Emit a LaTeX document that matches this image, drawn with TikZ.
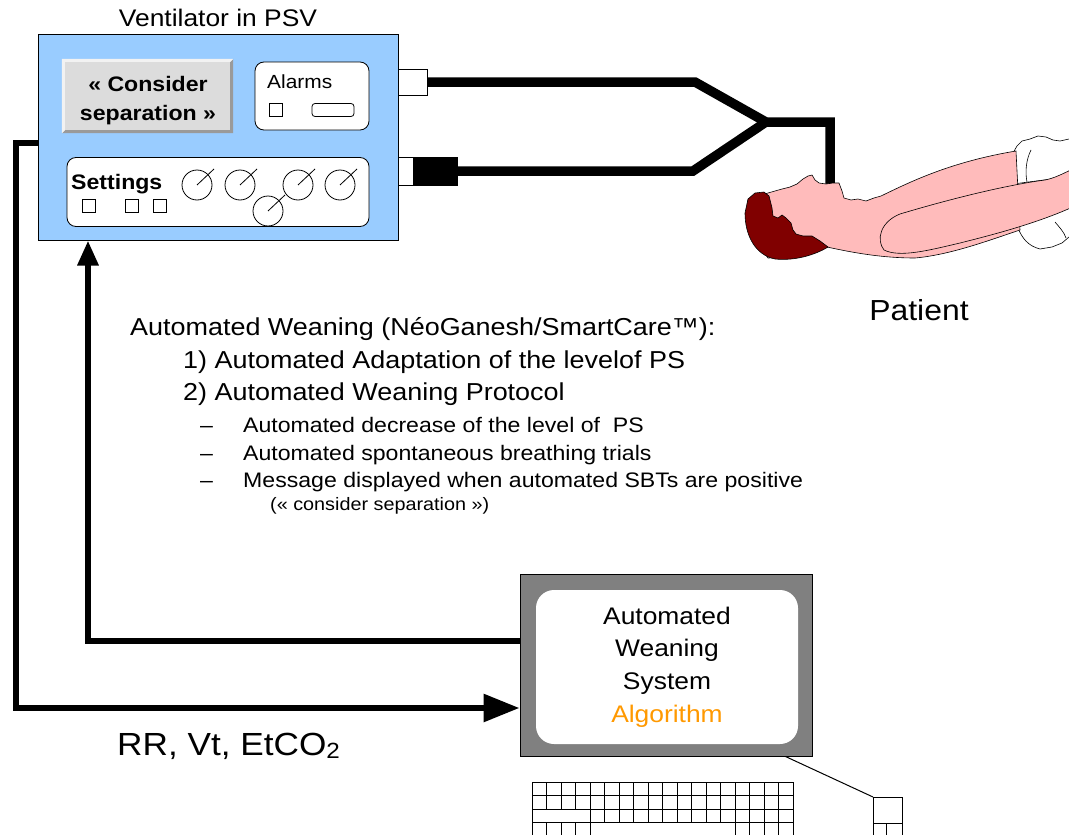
\documentclass[tikz,border=0pt]{standalone}
\usepackage{fontspec}
\setmainfont{Liberation Sans}[FakeStretch=1.1]
\usetikzlibrary{arrows.meta}
\newcommand\FS[1]{\fontsize{#1}{#1}\selectfont}
\definecolor{ventblue}{HTML}{99CCFF}
\definecolor{btngray}{HTML}{DCDCDC}
\definecolor{btndark}{HTML}{9A9A9A}
\definecolor{btnlight}{HTML}{F2F2F2}
\definecolor{skin}{HTML}{FFBBBB}
\definecolor{hair}{HTML}{800000}
\definecolor{algo}{HTML}{FF9900}
\definecolor{scr}{HTML}{808080}

\begin{document}
\begin{tikzpicture}[x=1pt,y=-1pt,
  lbl/.style={inner sep=0pt, anchor=base west},
  lblc/.style={inner sep=0pt, anchor=base},
  panel/.style={draw=black, line width=0.8pt, fill=white, rounded corners=9pt, inner sep=0pt},
  keysq/.style={draw=black, line width=0.8pt, fill=white, minimum size=13pt, inner sep=0pt},
  port/.style={draw=black, line width=0.8pt, inner sep=0pt},
  dial/.style={draw=black, line width=0.8pt, circle, minimum size=30pt, inner sep=0pt},
  tube/.style={line width=9.5pt, line join=miter},
  flow/.style={line width=6pt, line join=miter},
  outline/.style={draw=black, line width=0.6pt},
  keyline/.style={draw=black, line width=0.8pt}]

\useasboundingbox (0,0) rectangle (1069,835);

% ---------- ventilator ----------
\node[draw, line width=1pt, fill=ventblue, minimum width=360pt, minimum height=206pt, inner sep=0pt] (vent) at (218,137) {};
\node[lblc, font=\FS{24}] (venttitle) at (218,27) {Ventilator in PSV};

% bevelled message button
\node[fill=btngray, minimum width=171pt, minimum height=74pt, inner sep=0pt] (btn) at (147.5,96) {};
\fill[btndark] (btn.south west) -- (btn.south east) -- (btn.north east)
  -- ([shift={(-3,3)}]btn.north east) -- ([shift={(-3,-3)}]btn.south east)
  -- ([shift={(3,-3)}]btn.south west) -- cycle;
\fill[btnlight] (btn.south west) -- (btn.north west) -- (btn.north east)
  -- ([shift={(-3,3)}]btn.north east) -- ([shift={(3,3)}]btn.north west)
  -- ([shift={(3,-3)}]btn.south west) -- cycle;
\node[lblc, font=\bfseries\FS{21}] (btn1) at (148,91) {« Consider};
\node[lblc, font=\bfseries\FS{21}] (btn2) at (148,120) {separation »};

% alarms panel
\node[panel, minimum width=114pt, minimum height=68pt] (alarms) at (312,96) {};
\node[lbl, font=\FS{19}] (alarmtxt) at (267,88) {Alarms};
\node[port, minimum width=13pt, minimum height=13pt] (alsq) at (276,110) {};
\node[port, rounded corners=3pt, minimum width=42pt, minimum height=13pt] (alled) at (333,110) {};

% settings panel
\node[panel, minimum width=302pt, minimum height=69pt] (settings) at (218,192) {};
\node[lbl, font=\bfseries\FS{21}] (settxt) at (71,189) {Settings};
\node[keysq] (s1) at (88.5,206) {};
\node[keysq] (s2) at (131.5,206) {};
\node[keysq] (s3) at (160,206) {};
\foreach \n/\x/\y in {d1/197/185, d2/240/185, d3/298/185, d4/340/185, d5/268/211}{
  \node[dial] (\n) at (\x,\y) {};
  \draw[line width=0.8pt] (\n.center) -- ++(17,-16);
}

% breathing circuit ports
\node[port, fill=white, minimum width=29pt, minimum height=26pt] (portA) at (412.5,82) {};
\node[port, fill=white, minimum width=15pt, minimum height=28pt] (portB) at (405.5,171) {};
\node[port, fill=black, minimum width=44pt, minimum height=28pt] (portC) at (435,171) {};

% tubing to the patient
\coordinate (j1) at (695,82);
\coordinate (jn) at (766,122);
\coordinate (j2) at (693,171);
\coordinate (jt) at (830,122);
\coordinate (mouth) at (830,187);
\draw[tube] (portA.east) -- (j1) -- (jn) -- (jt) -- (mouth);
\draw[tube] (portC.east) -- (j2) -- (jn);

% ---------- patient ----------
\begin{scope}
\clip (0,0) rectangle (1069,835);
% upper sleeve
\draw[outline, fill=white] (1013,153) -- (1017,146) -- (1022,141) -- (1030,139) -- (1038,136)
  -- (1046,137) -- (1053,140) -- (1060,141) -- (1069,139) -- (1075,139) -- (1075,176)
  -- (1013,184) -- cycle;
\draw[outline] (1031,150) .. controls (1026,160) and (1025,172) .. (1027,182);
% lower sleeve
\draw[outline, fill=white] (1015,215) -- (1018,228) .. controls (1022,238) and (1028,246) .. (1040,249)
  -- (1052,247) -- (1062,243) -- (1069,237) -- (1075,236) -- (1075,200) -- cycle;
\draw[outline] (1055,222) .. controls (1060,228) and (1064,232) .. (1066,238);
% head and torso
\draw[outline, fill=skin] (768,193) -- (775,191) -- (782,189) -- (790,187) -- (797,184)
  -- (803,179) -- (808,176) -- (812,175) -- (815,180) -- (819,183) -- (826,184)
  -- (833,183) -- (839,183) -- (842,191) -- (844,198) -- (851,200) -- (858,199)
  -- (866,201) -- (874,198) -- (881,196)
  .. controls (910,182) and (950,162) .. (1016,151) -- (1020,230)
  .. controls (990,240) and (950,255) .. (915,258)
  .. controls (880,258) and (850,252) .. (827,247)
  -- (800,257) -- (768,258) -- (748,230) -- (748,200) -- cycle;
% forearm
\draw[outline, fill=skin] (884,250) .. controls (876,240) and (880,222) .. (900,214)
  .. controls (940,202) and (1000,186) .. (1045,180)
  .. controls (1055,178) and (1062,174) .. (1075,168) -- (1075,206)
  .. controls (1040,222) and (1000,233) .. (960,243)
  .. controls (930,250) and (900,258) .. (884,250) -- cycle;
% hair
\draw[outline, fill=hair] (769,196) -- (764,192) -- (755,193) -- (748,199) -- (745,213)
  .. controls (745,235) and (755,255) .. (775,259)
  .. controls (795,261) and (815,255) .. (828,247)
  -- (820,241) -- (812,236) -- (803,236) -- (796,234) -- (793,230) -- (791,223)
  -- (786,218) -- (782,215) -- (778,218) -- (773,216) -- (772,208) -- (770,200) -- cycle;
\end{scope}
\node[lblc, font=\FS{29}] (patient) at (919,320) {Patient};

% ---------- description ----------
\node[lbl, font=\FS{24.5}] (t1) at (130,335) {Automated Weaning (NéoGanesh/SmartCare™):};
\node[lbl, font=\FS{24.5}] (t2) at (183,368) {1) Automated Adaptation of the levelof PS};
\node[lbl, font=\FS{24.5}] (t3) at (183,400) {2) Automated Weaning Protocol};
\node[lbl, font=\FS{21}] (b1) at (200,432) {–};
\node[lbl, font=\FS{21}] (b2) at (200,460) {–};
\node[lbl, font=\FS{21}] (b3) at (200,487) {–};
\node[lbl, font=\FS{21}] (t4) at (243,432) {Automated decrease of the level of\ \ PS};
\node[lbl, font=\FS{21}] (t5) at (243,460) {Automated spontaneous breathing trials};
\node[lbl, font=\FS{21}] (t6) at (243,487) {Message displayed when automated SBTs are positive};
\node[lbl, font=\FS{18}] (t7) at (270,510) {(« consider separation »)};

% ---------- automated weaning system ----------
\node[draw, line width=1pt, fill=scr, minimum width=292pt, minimum height=182pt, inner sep=0pt] (mon) at (666,665) {};
\node[fill=white, rounded corners=18pt, minimum width=262pt, minimum height=154pt, inner sep=0pt] (screen) at (667,667) {};
\node[lblc, font=\FS{24}] (m1) at (667,624) {Automated};
\node[lblc, font=\FS{24}] (m2) at (667,656) {Weaning};
\node[lblc, font=\FS{24}] (m3) at (667,689) {System};
\node[lblc, font=\FS{24}, text=algo] (m4) at (667,722) {Algorithm};

% tower unit and its cable
\node[port, fill=white, minimum width=29pt, minimum height=45pt, anchor=north west] (tower) at (873,797) {};
\draw[line width=1pt] ([shift={(-27,0)}]mon.south east) -- (tower.north west);
\draw[keyline] (873,823) -- (902,823);
\draw[keyline] (886,823) -- (886,842);

% keyboard
\begin{scope}[keyline]
\foreach \i in {0,...,17}{
  \draw (532+\i*14.5,782) rectangle ++(14.5,13.5);
  \draw (532+\i*14.5,795.5) rectangle ++(14.5,13.5);
}
\draw (532,809) rectangle ++(58,13.5);
\foreach \i in {4,...,17}{
  \draw (532+\i*14.5,809) rectangle ++(14.5,13.5);
}
\foreach \i in {0,...,3,14,15,16,17}{
  \draw (532+\i*14.5,822.5) rectangle ++(14.5,20);
}
\end{scope}

% ---------- signal loops ----------
\coordinate (c1) at (16,143);
\coordinate (c2) at (16,708);
\draw[flow, -{Triangle[length=36pt,width=27pt]}] (vent.west |- c1) -- (c1) -- (c2) -- (mon.west |- c2);
\node[lbl, font=\FS{32}] (rrlbl) at (117,755) {RR, Vt, EtCO{\FS{22}\raisebox{-3pt}{2}}};

\coordinate (c3) at (88,641);
\draw[flow, -{Triangle[length=25pt,width=20pt]}] (mon.west |- c3) -- (c3) -- (c3 |- vent.south);

\end{tikzpicture}
\end{document}
